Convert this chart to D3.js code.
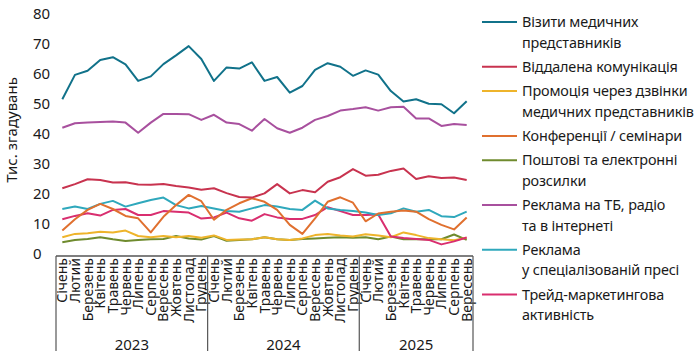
<!DOCTYPE html>
<html><head><meta charset="utf-8">
<script src="https://cdn.jsdelivr.net/npm/d3@7"></script>
<style>
body{margin:0;background:#fff;}
svg text{font-family:"Noto Sans",sans-serif;fill:#1a1a1a;}
</style></head>
<body><svg id="c" width="697" height="360"></svg>
<script>
const years = ["2023","2024","2025"];
const monthNames = ["Січень","Лютий","Березень","Квітень","Травень","Червень","Липень","Серпень","Вересень","Жовтень","Листопад","Грудень"];
const monthsPerYear = [12,12,9];
const yTicks = [0,10,20,30,40,50,60,70,80];
const yTitle = "Тис. згадувань";

const seriesNames = [
  ["Візити медичних","представників"],
  ["Віддалена комунікація"],
  ["Промоція через дзвінки","медичних представників"],
  ["Конференції / семінари"],
  ["Поштові та електронні","розсилки"],
  ["Реклама на ТБ, радіо","та в інтернеті"],
  ["Реклама","у спеціалізованій пресі"],
  ["Трейд-маркетингова","активність"]
];
const seriesColors = ["#11728a","#c8334f","#eeb42b","#e0702f","#6f8b2e","#a8509e","#2fa8bc","#d92e6f"];

const visits = [51.6,59.7,61.1,64.7,65.6,63.2,57.7,59.2,63.3,66.2,69.3,65,57.7,62.2,61.8,63.9,57.7,59,53.8,56,61.4,63.6,62.4,59.4,61.2,59.8,54.3,50.8,51.6,50.1,49.9,46.9,50.9];
const remote = [21.9,23.3,24.9,24.7,23.8,23.9,23.2,23.1,23.3,22.7,22.2,21.4,21.9,20.3,19,18.8,20.2,23.3,20.2,21.3,20.6,24.1,25.6,28.3,26.1,26.4,27.7,28.5,25,25.9,25.3,25.5,24.7];
const promo = [5.6,6.7,6.9,7.4,7.2,7.8,6,5.6,6,5.6,6,5.4,6.2,4.7,4.8,4.9,5.6,4.9,4.7,5.2,6.3,6.7,6.2,5.8,6.6,6.2,5.6,7.2,6.3,5.3,4.9,4.6,5.4];
const conf = [7.8,11.6,14.7,16.7,15,12.7,11.9,7.2,12.4,16.3,19.7,17.6,11.4,14.7,16.9,18.6,17.4,14.7,9.7,6.7,11.9,17.4,18.9,17.1,10.9,13.5,14.1,14.5,14.1,11.6,9.7,8.2,12.2];
const mail = [3.9,4.7,5,5.6,4.9,4.3,4.7,4.9,5,6,5.2,4.8,6,4.4,4.7,4.9,5.6,4.9,4.7,5,5.2,5.4,5.6,5.4,5.6,4.9,5.8,4.9,4.9,4.9,4.9,6.5,4.7];
const tv = [42.1,43.6,43.8,44,44.2,43.8,40.4,43.8,46.7,46.7,46.6,44.7,46.4,43.8,43.3,41.1,45,41.9,40.4,42.1,44.7,46,47.8,48.3,48.9,47.8,48.9,49.1,45.2,45.2,42.7,43.3,43];
const press = [15,15.8,15,16.7,17.7,15.8,16.9,18,18.8,16.3,15.2,16,15.2,14.3,14.1,15.2,16.3,15.8,15,14.7,17.8,15.2,14.7,14.3,13.8,13,13.6,15.2,14.1,14.7,12.6,12.3,14.1];
const trade = [11.6,12.7,13.6,12.8,14.7,15,13,13,14.3,14.1,13.8,11.8,12.2,13.8,11.9,11.1,13.3,12.2,11.7,11.7,13,15.6,14.3,13,13,13.2,5.8,5.3,5,4.7,3.2,4.2,5.5];
const seriesValues = [visits,remote,promo,conf,mail,tv,press,trade];

// build month keys
const keys = [];
years.forEach((y,yi)=>{ for(let m=0;m<monthsPerYear[yi];m++) keys.push({key:y+"-"+m, year:y, label:monthNames[m]}); });

const svg = d3.select("#c");
const x = d3.scaleBand().domain(keys.map(k=>k.key)).range([56,473]).paddingInner(0).paddingOuter(0);
const y = d3.scaleLinear().domain([0,80]).range([254,14]);
const cx = k => x(k) + x.bandwidth()/2;

// y tick labels
svg.append("g").selectAll("text").data(yTicks).join("text")
  .attr("x",33).attr("y",d=>y(d)).attr("dy","0.35em")
  .style("font-size","15px").text(d=>d);

// y title
svg.append("text").attr("transform","translate(17,130) rotate(-90)")
  .attr("text-anchor","middle").style("font-size","15px").text(yTitle);

// x axis line
svg.append("line").attr("x1",56).attr("x2",473).attr("y1",256).attr("y2",256)
  .attr("stroke","#555").attr("stroke-width",1.5);

// month labels
svg.append("g").selectAll("text").data(keys).join("text")
  .attr("transform",d=>`translate(${cx(d.key)+5},258) rotate(-90)`)
  .attr("text-anchor","end").style("font-size","14px").text(d=>d.label);

// year separators & labels
const yearBounds = [];
let idx=0;
years.forEach((yr,yi)=>{
  const first = keys[idx].key, last = keys[idx+monthsPerYear[yi]-1].key;
  yearBounds.push({yr, x0:x(first), x1:x(last)+x.bandwidth()});
  idx += monthsPerYear[yi];
});
const seps = [yearBounds[0].x0, ...yearBounds.map(b=>b.x1)];
svg.append("g").selectAll("line").data(seps).join("line")
  .attr("x1",d=>d).attr("x2",d=>d).attr("y1",256).attr("y2",351)
  .attr("stroke","#555").attr("stroke-width",1.2);
svg.append("g").selectAll("text").data(yearBounds).join("text")
  .attr("x",d=>(d.x0+d.x1)/2).attr("y",350).attr("text-anchor","middle")
  .style("font-size","15px").text(d=>d.yr);

// lines
const line = d3.line().x((d,i)=>cx(keys[i].key)).y(d=>y(d));
const drawOrder = [4,2,7,6,3,1,5,0];
svg.append("g").selectAll("path").data(drawOrder).join("path")
  .attr("d",i=>line(seriesValues[i])).attr("fill","none")
  .attr("stroke",i=>seriesColors[i]).attr("stroke-width",2)
  .attr("stroke-linejoin","round");

// legend
const lg = svg.append("g");
let ly = 22;
const lineH = 20.5, gap = 24.3;
seriesNames.forEach((lines,i)=>{
  lg.append("line").attr("x1",482).attr("x2",517).attr("y1",ly).attr("y2",ly)
    .attr("stroke",seriesColors[i]).attr("stroke-width",2);
  lines.forEach((t,j)=>{
    lg.append("text").attr("x",522).attr("y",ly+j*lineH).attr("dy","0.35em")
      .style("font-size","14.4px").style("letter-spacing","-0.15px").text(t);
  });
  ly += (lines.length-1)*lineH + gap;
});
</script></body></html>
